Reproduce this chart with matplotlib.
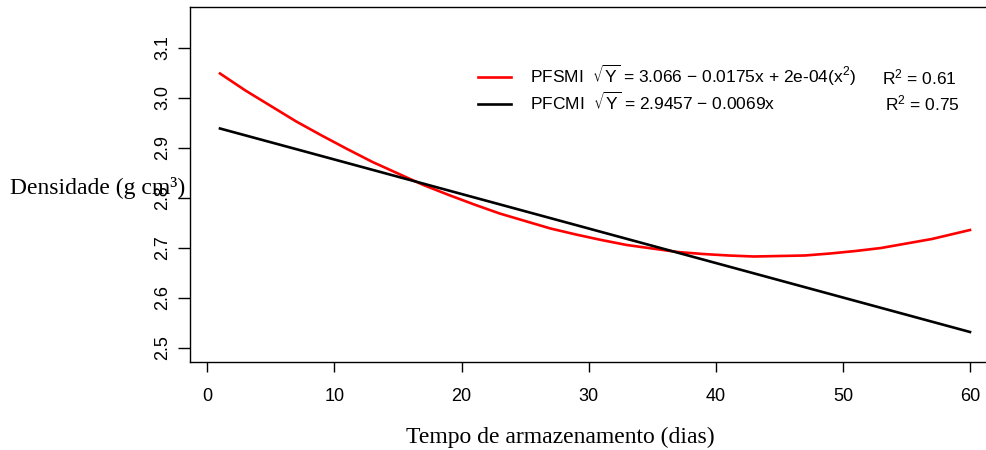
import matplotlib.pyplot as plt
from matplotlib.lines import Line2D

plt.rcParams['font.family'] = ['Liberation Sans', 'DejaVu Sans']
plt.rcParams['mathtext.default'] = 'regular'

# storage days and fitted density curves
days = [1, 3, 5, 7, 9, 11, 13, 15, 17, 19, 21, 23, 25, 27, 29, 31,
        33, 35, 37, 39, 41, 43, 45, 47, 49, 51, 53, 55, 57, 59, 60]
pfsmi = [3.049, 3.015, 2.984, 2.953, 2.925, 2.898, 2.872, 2.849,
         2.826, 2.806, 2.787, 2.769, 2.754, 2.739, 2.727, 2.716,
         2.706, 2.699, 2.692, 2.688, 2.685, 2.683, 2.684, 2.685,
         2.689, 2.694, 2.700, 2.709, 2.718, 2.730, 2.736]
days_c = [1, 10, 20, 30, 40, 50, 60]
pfcmi = [2.939, 2.877, 2.808, 2.739, 2.670, 2.601, 2.532]

x_ticks = [0, 10, 20, 30, 40, 50, 60]
y_ticks = [2.5, 2.6, 2.7, 2.8, 2.9, 3.0, 3.1]

fig = plt.figure(figsize=(9.87, 4.5), dpi=100)
ax = fig.add_axes([190 / 987, 88 / 450, 810 / 987, 355 / 450])

ax.plot(days, pfsmi, color='#ff0000', lw=1.9)
ax.plot(days_c, pfcmi, color='black', lw=1.9)

ax.set_xlim(-1.36, 62.36)
ax.set_ylim(2.472, 3.182)
ax.set_xticks(x_ticks)
ax.set_yticks(y_ticks)
ax.set_yticklabels([f'{v:.1f}' for v in y_ticks], rotation=90, va='center')
ax.tick_params(axis='x', length=7, width=1, pad=12, labelsize=13)
ax.tick_params(axis='y', length=8.5, width=1, pad=5, labelsize=13)
ax.spines['right'].set_visible(False)
for s in ax.spines.values():
    s.set_linewidth(1)

# legend with equations
handles = [Line2D([], [], color='#ff0000', lw=1.9),
           Line2D([], [], color='black', lw=1.9)]
labels = [r'PFSMI  $\sqrt{Y}$ = 3.066 $-$ 0.0175x + 2e-04(x$^{2}$)',
          r'PFCMI  $\sqrt{Y}$ = 2.9457 $-$ 0.0069x']
leg = ax.legend(handles, labels, frameon=False, fontsize=12.5,
                loc='upper left', bbox_to_anchor=(478 / 987, 1 - 63 / 450),
                bbox_transform=fig.transFigure, handlelength=1.9,
                handletextpad=1.1, labelspacing=0.15, borderpad=0,
                borderaxespad=0)
fig.text(882 / 987, 1 - 77 / 450, r'R$^{2}$ = 0.61', fontsize=12.5, va='center')
fig.text(885 / 987, 1 - 103 / 450, r'R$^{2}$ = 0.75', fontsize=12.5, va='center')

fig.text(10 / 987, 1 - 188 / 450, 'Densidade (g cm³)', fontsize=17,
         family='Liberation Serif', va='center', ha='left', zorder=10)
fig.text(560 / 987, 1 - 437 / 450, 'Tempo de armazenamento (dias)', fontsize=17,
         family='Liberation Serif', va='center', ha='center')

fig.savefig('out.png', dpi=100)
